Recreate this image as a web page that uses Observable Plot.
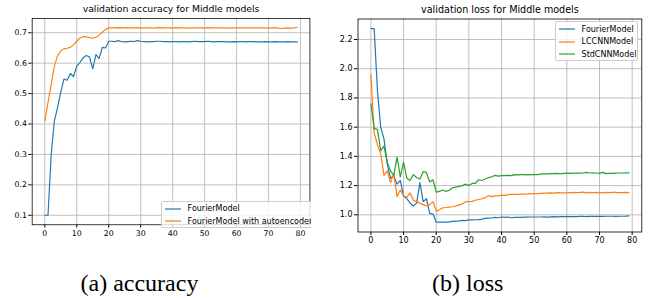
<!DOCTYPE html>
<html><head><meta charset="utf-8">
<script src="https://cdn.jsdelivr.net/npm/d3@7"></script>
<script src="https://cdn.jsdelivr.net/npm/@observablehq/plot@0.6"></script>
<style>
html,body{margin:0;padding:0;background:#fff;}
#root{position:relative;width:657px;height:298px;overflow:hidden;background:#fff;font-family:"DejaVu Sans",sans-serif;}
.panel{position:absolute;top:0;height:250px;overflow:hidden;}
.panel svg{display:block;}
.legend{position:absolute;box-sizing:border-box;background:rgba(255,255,255,0.8);border:0.8px solid #cccccc;border-radius:2px;font-family:"DejaVu Sans",sans-serif;font-size:8px;color:#000;padding:3.2px 3.2px;}
.legend .row{display:flex;align-items:center;height:8.5px;white-space:nowrap;}
.legend .row + .row{margin-top:4px;}
.legend svg.sw{display:block;width:16px;height:4px;margin-right:6.4px;flex:none;overflow:visible;}
.cap{position:absolute;font-family:"Liberation Serif","Times New Roman",serif;font-size:24px;line-height:24px;color:#000;white-space:nowrap;}
</style></head>
<body>
<div id="root">
  <div id="left" class="panel" style="left:0;width:311px;"></div>
  <div id="right" class="panel" style="left:330px;width:327px;"></div>
</div>
<script>
// ---- data ----
const xTicks = [0, 10, 20, 30, 40, 50, 60, 70, 80];
const accTicks = [0.1, 0.2, 0.3, 0.4, 0.5, 0.6, 0.7];
const lossTicks = [1.0, 1.2, 1.4, 1.6, 1.8, 2.0, 2.2];

const accTitle = "validation accuracy for Middle models";
const lossTitle = "validation loss for Middle models";

const accNames = ["FourierModel", "FourierModel with autoencoder"];
const lossNames = ["FourierModel", "LCCNNModel", "StdCNNModel"];
const colors = ["#1f77b4", "#ff7f0e", "#2ca02c"];

const accFourier = [
  0.100, 0.100, 0.300, 0.410, 0.455, 0.505, 0.548, 0.544, 0.566, 0.556,
  0.590, 0.602, 0.618, 0.625, 0.620, 0.581, 0.628, 0.615, 0.652, 0.650,
  0.672, 0.672, 0.671, 0.674, 0.671, 0.670, 0.671, 0.672, 0.671, 0.674,
  0.672, 0.671, 0.670, 0.671, 0.671, 0.672, 0.672, 0.671, 0.671, 0.670,
  0.671, 0.671, 0.670, 0.671, 0.671, 0.670, 0.671, 0.672, 0.671, 0.671,
  0.671, 0.672, 0.671, 0.670, 0.671, 0.671, 0.671, 0.670, 0.670, 0.671,
  0.670, 0.671, 0.671, 0.670, 0.671, 0.671, 0.670, 0.670, 0.670, 0.671,
  0.670, 0.670, 0.671, 0.670, 0.670, 0.670, 0.671, 0.670, 0.670, 0.670
];
const accAuto = [
  0.410, 0.470, 0.530, 0.590, 0.625, 0.640, 0.647, 0.649, 0.652, 0.660,
  0.672, 0.683, 0.687, 0.687, 0.684, 0.682, 0.685, 0.692, 0.702, 0.711,
  0.716, 0.716, 0.716, 0.717, 0.716, 0.716, 0.717, 0.716, 0.716, 0.717,
  0.715, 0.716, 0.716, 0.716, 0.715, 0.716, 0.717, 0.716, 0.716, 0.716,
  0.715, 0.717, 0.716, 0.716, 0.716, 0.715, 0.716, 0.716, 0.716, 0.716,
  0.715, 0.717, 0.716, 0.716, 0.716, 0.716, 0.716, 0.715, 0.716, 0.716,
  0.716, 0.716, 0.716, 0.716, 0.716, 0.716, 0.716, 0.716, 0.716, 0.716,
  0.715, 0.716, 0.717, 0.715, 0.714, 0.715, 0.716, 0.715, 0.716, 0.718
];
const lossFourier = [
  2.275, 2.275, 1.850, 1.600, 1.520, 1.350, 1.250, 1.270, 1.210, 1.235,
  1.130, 1.110, 1.080, 1.060, 1.080, 1.220, 1.090, 1.110, 1.010, 1.005,
  0.950, 0.950, 0.950, 0.950, 0.952, 0.955, 0.957, 0.958, 0.962, 0.960,
  0.965, 0.965, 0.966, 0.967, 0.970, 0.975, 0.977, 0.978, 0.982, 0.980,
  0.985, 0.982, 0.985, 0.980, 0.982, 0.983, 0.983, 0.984, 0.984, 0.985,
  0.985, 0.985, 0.985, 0.986, 0.984, 0.986, 0.987, 0.986, 0.987, 0.987,
  0.988, 0.987, 0.988, 0.988, 0.989, 0.990, 0.988, 0.989, 0.990, 0.989,
  0.990, 0.989, 0.990, 0.990, 0.990, 0.989, 0.990, 0.990, 0.991, 0.993
];
const lossLCCNN = [
  1.960, 1.560, 1.480, 1.420, 1.270, 1.300, 1.220, 1.280, 1.125, 1.170,
  1.130, 1.120, 1.150, 1.100, 1.090, 1.080, 1.070, 1.060, 1.070, 1.090,
  1.025, 1.035, 1.048, 1.050, 1.053, 1.055, 1.060, 1.068, 1.075, 1.090,
  1.090, 1.092, 1.100, 1.105, 1.110, 1.118, 1.130, 1.125, 1.130, 1.130,
  1.135, 1.133, 1.138, 1.140, 1.140, 1.140, 1.142, 1.142, 1.143, 1.145,
  1.145, 1.145, 1.147, 1.148, 1.148, 1.150, 1.148, 1.152, 1.150, 1.150,
  1.150, 1.152, 1.153, 1.152, 1.153, 1.155, 1.150, 1.153, 1.152, 1.153,
  1.150, 1.152, 1.153, 1.152, 1.153, 1.153, 1.152, 1.152, 1.153, 1.152
];
const lossStdCNN = [
  1.760, 1.590, 1.585, 1.440, 1.470, 1.360, 1.300, 1.270, 1.395, 1.260,
  1.360, 1.250, 1.235, 1.275, 1.255, 1.245, 1.295, 1.290, 1.225, 1.240,
  1.155, 1.160, 1.170, 1.160, 1.168, 1.185, 1.190, 1.195, 1.200, 1.210,
  1.200, 1.215, 1.215, 1.240, 1.235, 1.245, 1.255, 1.260, 1.270, 1.265,
  1.268, 1.268, 1.270, 1.268, 1.275, 1.273, 1.275, 1.275, 1.274, 1.275,
  1.276, 1.275, 1.278, 1.280, 1.280, 1.282, 1.282, 1.284, 1.280, 1.283,
  1.285, 1.284, 1.285, 1.286, 1.285, 1.286, 1.290, 1.286, 1.288, 1.286,
  1.284, 1.290, 1.282, 1.283, 1.284, 1.285, 1.286, 1.286, 1.287, 1.287
];

// ---- build tidy rows ----
function tidy(names, arrays) {
  const rows = [];
  arrays.forEach((arr, k) => arr.forEach((v, i) => rows.push({series: names[k], epoch: i, value: v})));
  return rows;
}
const accRows = tidy(accNames, [accFourier, accAuto]);
const lossRows = tidy(lossNames, [lossFourier, lossLCCNN, lossStdCNN]);

function panel({width, ml, mr, yDomain, yTicks, rows, names, title}) {
  return Plot.plot({
    width, height: 250,
    marginLeft: ml, marginRight: mr, marginTop: 18.5, marginBottom: 18.5,
    style: {fontFamily: "DejaVu Sans", fontSize: "8px", color: "#000", background: "transparent", overflow: "visible"},
    x: {domain: [-3.95, 82.95], ticks: xTicks, tickSize: 3.5, tickPadding: 2.3, tickFormat: d3.format("d"), label: null},
    y: {domain: yDomain, ticks: yTicks, tickSize: 3.5, tickPadding: 2, tickFormat: d3.format(".1f"), label: null},
    color: {domain: names, range: colors.slice(0, names.length)},
    marks: [
      Plot.ruleX(xTicks, {stroke: "#b0b0b0", strokeWidth: 0.8}),
      Plot.ruleY(yTicks, {stroke: "#b0b0b0", strokeWidth: 0.8}),
      Plot.line(rows, {x: "epoch", y: "value", z: "series", stroke: "series", strokeWidth: 1.2}),
      Plot.frame({stroke: "#000", strokeWidth: 0.8}),
      Plot.text([title], {text: d => d, frameAnchor: "top", lineAnchor: "middle", dy: -9.4, fontSize: 9.6, fill: "#000"})
    ]
  });
}

document.getElementById("left").appendChild(panel({
  width: 321, ml: 32.7, mr: 1.6, yDomain: [0.0688, 0.7471], yTicks: accTicks,
  rows: accRows, names: accNames, title: accTitle
}));
document.getElementById("right").appendChild(panel({
  width: 327, ml: 27.5, mr: 15.7, yDomain: [0.8823, 2.3403], yTicks: lossTicks,
  rows: lossRows, names: lossNames, title: lossTitle
}));

// ---- legends ----
const root = document.getElementById("root");
const svgNS = "http://www.w3.org/2000/svg";
function legend(names, style) {
  const box = document.createElement("div");
  box.className = "legend";
  Object.assign(box.style, style);
  names.forEach((n, i) => {
    const row = document.createElement("div");
    row.className = "row";
    const sw = document.createElementNS(svgNS, "svg");
    sw.setAttribute("class", "sw");
    sw.setAttribute("width", "16");
    sw.setAttribute("height", "4");
    const ln = document.createElementNS(svgNS, "line");
    ln.setAttribute("x1", "0"); ln.setAttribute("x2", "16");
    ln.setAttribute("y1", "2"); ln.setAttribute("y2", "2");
    ln.setAttribute("stroke", colors[i]);
    ln.setAttribute("stroke-width", "1.2");
    sw.appendChild(ln);
    const t = document.createElement("span");
    t.textContent = n;
    row.appendChild(sw); row.appendChild(t);
    box.appendChild(row);
  });
  root.appendChild(box);
}
legend(accNames, {left: "161px", top: "200.5px", width: "155px", height: "27.5px"});
legend(lossNames, {left: "555px", top: "21px", width: "82.5px", height: "40px"});
// clip the left legend at the panel crop edge
const cover = document.createElement("div");
Object.assign(cover.style, {position: "absolute", left: "311px", top: "0", width: "19px", height: "250px", background: "#fff"});
root.appendChild(cover);

// ---- captions ----
function caption(text, x) {
  const c = document.createElement("div");
  c.className = "cap";
  c.textContent = text;
  c.style.left = x + "px";
  c.style.top = "271.4px";
  root.appendChild(c);
}
caption("(a) accuracy", 80.5);
caption("(b) loss", 432);
</script>
</body></html>
